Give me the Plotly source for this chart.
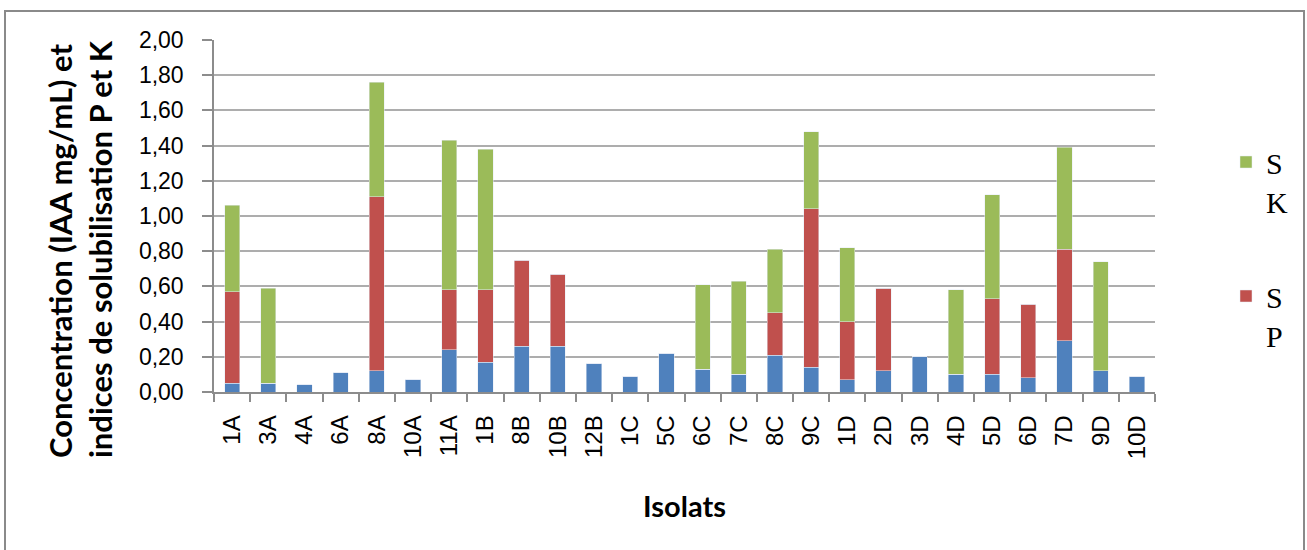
import plotly.graph_objects as go

# Isolates on the category axis
isolats = ["1A", "3A", "4A", "6A", "8A", "10A", "11A", "1B", "8B", "10B", "12B",
           "1C", "5C", "6C", "7C", "8C", "9C", "1D", "2D", "3D", "4D", "5D",
           "6D", "7D", "9D", "10D"]

# IAA concentration (mg/mL)
iaa = [0.05, 0.05, 0.04, 0.11, 0.12, 0.07, 0.24, 0.17, 0.26, 0.26, 0.16,
       0.09, 0.22, 0.13, 0.10, 0.21, 0.14, 0.07, 0.12, 0.20, 0.10, 0.10,
       0.08, 0.29, 0.12, 0.09]

# Phosphate solubilisation index (SP)
sp = [0.52, 0.00, 0.00, 0.00, 0.99, 0.00, 0.34, 0.41, 0.49, 0.41, 0.00,
      0.00, 0.00, 0.00, 0.00, 0.24, 0.90, 0.33, 0.47, 0.00, 0.00, 0.43,
      0.42, 0.52, 0.00, 0.00]

# Potassium solubilisation index (SK)
sk = [0.49, 0.54, 0.00, 0.00, 0.65, 0.00, 0.85, 0.80, 0.00, 0.00, 0.00,
      0.00, 0.00, 0.48, 0.53, 0.36, 0.44, 0.42, 0.00, 0.00, 0.48, 0.59,
      0.00, 0.58, 0.62, 0.00]

y_title = "Concentration (IAA mg/mL) et<br>indices de solubilisation P et K"
x_title = "Isolats"

# Plot-area geometry in pixels (figure is 1307 x 550)
W, H = 1307, 550
L, R, T, B = 214, 152, 40, 158
pw, ph = W - L - R, H - T - B

fig = go.Figure()
fig.add_trace(go.Bar(x=isolats, y=iaa, name="IAA", marker_color="#4F81BD",
                     showlegend=False, legendgroup="iaa", legendrank=3))
fig.add_trace(go.Bar(x=isolats, y=sp, name="S<br>P", marker_color="#C0504D",
                     legendgroup="sp", legendrank=2))
fig.add_trace(go.Bar(x=isolats, y=sk, name="S<br>K", marker_color="#9BBB59",
                     legendgroup="sk", legendrank=1))

grid = "#ADADAD"
axis = "#8C8C8C"

fig.update_layout(
    width=W, height=H,
    barmode="stack", bargap=0.58,
    separators=", ",
    paper_bgcolor="white", plot_bgcolor="white",
    margin=dict(l=L, r=R, t=T, b=B, autoexpand=False),
    font=dict(family="Liberation Sans", color="black"),
    legend=dict(
        x=1226 / W, y=1 - 136 / H, xref="container", yref="container",
        xanchor="left", yanchor="top",
        traceorder="grouped", tracegroupgap=53, valign="top",
        font=dict(family="Liberation Serif", size=30, color="black"),
        bgcolor="rgba(0,0,0,0)",
    ),
    xaxis=dict(
        type="category", tickangle=-90, tickson="boundaries",
        ticks="outside", ticklen=8, tickcolor=axis, tickwidth=1.5,
        showline=True, linecolor=axis, linewidth=1.5,
        showgrid=False, ticklabelstandoff=12,
        tickfont=dict(family="Liberation Sans", size=24, color="black"),
        title=dict(text=x_title, standoff=38,
                   font=dict(family="Lato", size=29, color="black", weight="bold")),
        automargin=False,
    ),
    yaxis=dict(
        range=[0, 2], dtick=0.2, tick0=0, tickformat=".2f",
        ticks="outside", ticklen=10, tickcolor=axis, tickwidth=1.5,
        showline=True, linecolor=axis, linewidth=1.5,
        showgrid=True, gridcolor=grid, gridwidth=1.6,
        zeroline=False, ticklabelstandoff=14,
        tickfont=dict(family="Liberation Sans", size=23, color="black"),
        automargin=False,
    ),
    annotations=[dict(
        text=y_title, textangle=-90, showarrow=False, align="left",
        xref="paper", yref="paper",
        x=(80 - L) / pw, y=(T + ph - 460) / ph,
        xanchor="center", yanchor="bottom",
        font=dict(family="Lato", size=31, color="black", weight="bold"),
    )],
    shapes=[dict(
        type="rect", xref="paper", yref="paper",
        x0=(5 - L) / pw, x1=(1304 - L) / pw,
        y0=(T + ph - 570) / ph, y1=(T + ph - 11) / ph,
        line=dict(color="#8A8A8A", width=2), fillcolor="rgba(0,0,0,0)",
        layer="below",
    )],
)

fig.write_html("out.html")
